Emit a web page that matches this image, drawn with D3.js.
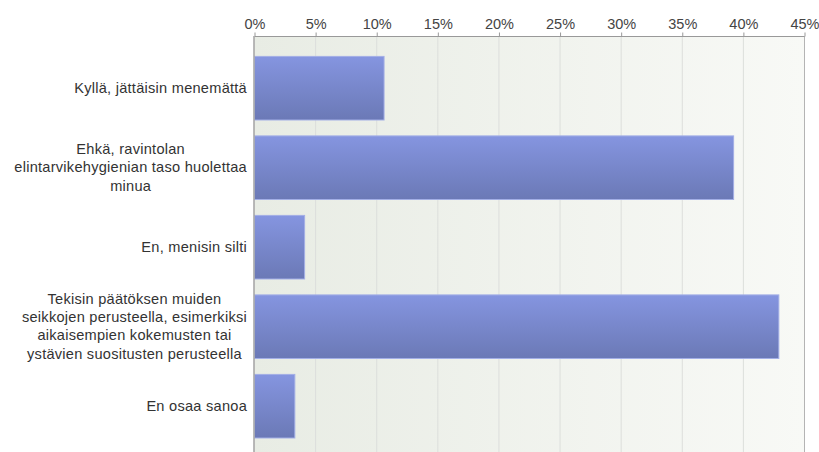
<!DOCTYPE html>
<html>
<head>
<meta charset="utf-8">
<script src="https://cdn.jsdelivr.net/npm/d3@7/dist/d3.min.js"></script>
<style>
  html, body { margin: 0; padding: 0; background: #ffffff; }
  svg { display: block; font-family: "Liberation Sans", Arial, sans-serif; }
</style>
</head>
<body>
<svg id="chart" width="819" height="452"></svg>
<script>
// Survey answers (Finnish), one category per bar
const categories = [
  ["Kyllä, jättäisin menemättä"],
  ["Ehkä, ravintolan", "elintarvikehygienian taso huolettaa", "minua"],
  ["En, menisin silti"],
  ["Tekisin päätöksen muiden", "seikkojen perusteella, esimerkiksi", "aikaisempien kokemusten tai", "ystävien suositusten perusteella"],
  ["En osaa sanoa"]
];
// Share of respondents, percent
const values = [10.6, 39.2, 4.1, 42.9, 3.3];
// Axis ticks, percent
const tickValues = [0, 5, 10, 15, 20, 25, 30, 35, 40, 45];

const svg = d3.select("#chart");
const plotLeft = 254, plotRight = 804, plotTop = 36, plotBottom = 460;

const x = d3.scaleLinear().domain([0, 45]).range([plotLeft, plotRight]);
const y = d3.scaleBand()
  .domain(d3.range(values.length))
  .range([40, 453.4])
  .paddingInner(0.2)
  .paddingOuter(0.2);

const defs = svg.append("defs");
const bg = defs.append("linearGradient").attr("id", "bgGrad")
  .attr("x1", "0%").attr("x2", "100%").attr("y1", "0%").attr("y2", "0%");
bg.append("stop").attr("offset", "0%").attr("stop-color", "#e8ece4");
bg.append("stop").attr("offset", "100%").attr("stop-color", "#f8f9f6");

const barGrad = defs.append("linearGradient").attr("id", "barGrad")
  .attr("x1", "0%").attr("x2", "0%").attr("y1", "0%").attr("y2", "100%");
barGrad.append("stop").attr("offset", "0%").attr("stop-color", "#8595e0");
barGrad.append("stop").attr("offset", "100%").attr("stop-color", "#6b79b6");

// Plot background
svg.append("rect")
  .attr("x", plotLeft).attr("y", plotTop)
  .attr("width", plotRight - plotLeft).attr("height", plotBottom - plotTop)
  .attr("fill", "url(#bgGrad)");

// Vertical gridlines
svg.append("g").selectAll("line")
  .data(tickValues.filter(t => t > 0 && t < 45))
  .join("line")
  .attr("x1", d => x(d) + 0.5).attr("x2", d => x(d) + 0.5)
  .attr("y1", plotTop).attr("y2", plotBottom)
  .attr("stroke", "#dcdedb").attr("stroke-width", 1);

// Right border
svg.append("line")
  .attr("x1", plotRight + 0.5).attr("x2", plotRight + 0.5)
  .attr("y1", plotTop).attr("y2", plotBottom)
  .attr("stroke", "#b4b4b4").attr("stroke-width", 1);

// Top axis
const axis = d3.axisTop(x)
  .tickValues(tickValues)
  .tickFormat(d => d + "%")
  .tickSize(4)
  .tickPadding(4);
const ax = svg.append("g")
  .attr("transform", `translate(0.5,${plotTop + 0.5})`)
  .call(axis);
ax.select(".domain").attr("stroke", "#999999").attr("d", `M${plotLeft},0H${plotRight}`);
ax.selectAll(".tick line").attr("stroke", "#999999");
ax.selectAll(".tick text")
  .attr("fill", "#444444")
  .attr("font-size", 14.5)
  .attr("font-family", "Liberation Sans, Arial, sans-serif");

// Bars
svg.append("g").selectAll("rect")
  .data(values)
  .join("rect")
  .attr("x", plotLeft + 0.5)
  .attr("y", (d, i) => y(i) + 0.5)
  .attr("width", d => x(d) - plotLeft)
  .attr("height", y.bandwidth())
  .attr("fill", "url(#barGrad)")
  .attr("stroke", "#a3afe6")
  .attr("stroke-width", 1);

// Left axis line
svg.append("line")
  .attr("x1", plotLeft).attr("x2", plotLeft)
  .attr("y1", plotTop).attr("y2", plotBottom)
  .attr("stroke", "#a8a8a8").attr("stroke-width", 1.6);

// Category labels: centred block, right edge at labelRight
const labelRight = 247;
const lineH = 18.3;
const fs = 14.6;
const labels = svg.append("g");
categories.forEach((lines, i) => {
  const g = labels.append("g");
  const cy = y(i) + y.bandwidth() / 2;
  const t = g.append("text")
    .attr("font-size", fs)
    .attr("letter-spacing", 0.25)
    .attr("fill", "#333333")
    .attr("text-anchor", "middle");
  lines.forEach((ln, k) => {
    t.append("tspan")
      .attr("x", 0)
      .attr("y", cy + (k - (lines.length - 1) / 2) * lineH)
      .attr("dy", "0.35em")
      .text(ln);
  });
  const w = d3.max(t.selectAll("tspan").nodes(), n => n.getComputedTextLength());
  t.selectAll("tspan").attr("x", labelRight - w / 2);
});
</script>
</body>
</html>
